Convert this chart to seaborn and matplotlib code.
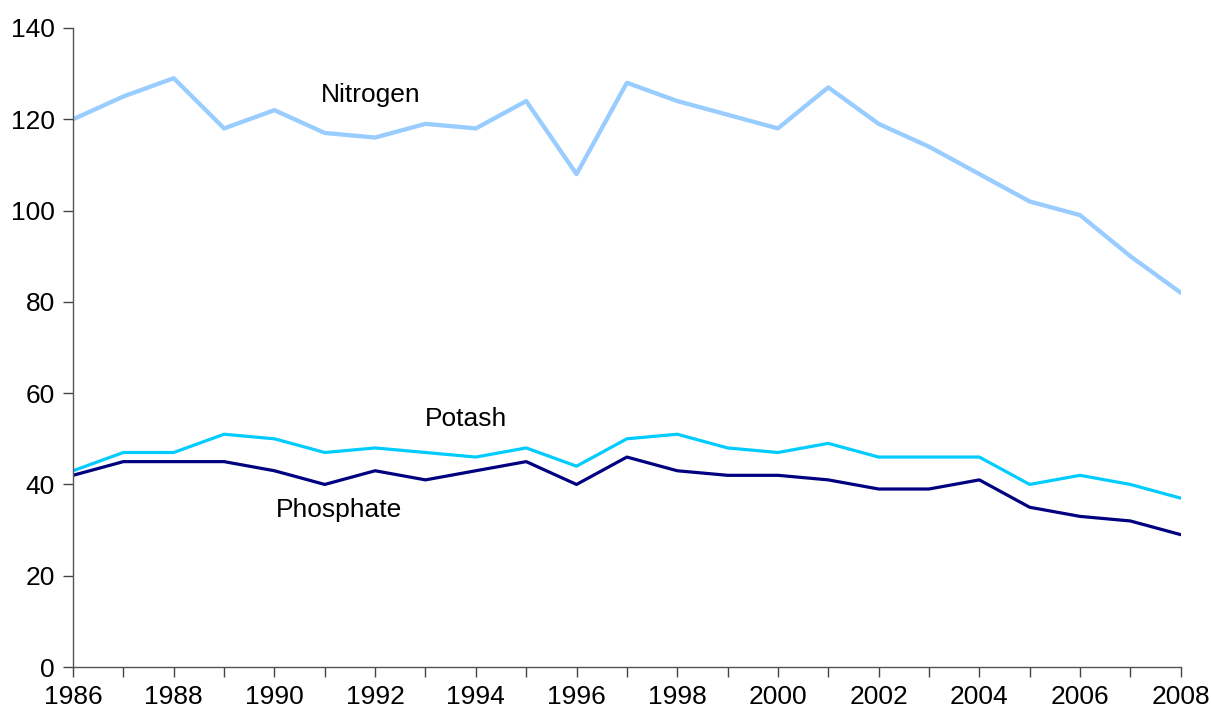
import matplotlib
matplotlib.use("Agg")
import matplotlib.pyplot as plt
import seaborn as sns
import pandas as pd

years = list(range(1986, 2009))
nitrogen = [120, 125, 129, 118, 122, 117, 116, 119, 118, 124, 108, 128, 124, 121, 118, 127, 119, 114, 108, 102, 99, 90, 82]
potash = [43, 47, 47, 51, 50, 47, 48, 47, 46, 48, 44, 50, 51, 48, 47, 49, 46, 46, 46, 40, 42, 40, 37]
phosphate = [42, 45, 45, 45, 43, 40, 43, 41, 43, 45, 40, 46, 43, 42, 42, 41, 39, 39, 41, 35, 33, 32, 29]
x_ticks = list(range(1986, 2009, 2))
y_ticks = [0, 20, 40, 60, 80, 100, 120, 140]

sns.set_theme(style="ticks")
plt.rcParams['font.family'] = ['Liberation Sans', 'DejaVu Sans']
plt.rcParams['text.color'] = 'black'
plt.rcParams['xtick.color'] = 'black'
plt.rcParams['ytick.color'] = 'black'

df = pd.DataFrame({"Year": years, "Nitrogen": nitrogen, "Potash": potash, "Phosphate": phosphate})

fig = plt.figure(figsize=(12.11, 7.16), dpi=100)
ax = fig.add_axes([0.0603, 0.0684, 0.9147, 0.8925])

sns.lineplot(data=df, x="Year", y="Nitrogen", ax=ax, color="#99CCFF", linewidth=3.1)
sns.lineplot(data=df, x="Year", y="Potash", ax=ax, color="#00CCFF", linewidth=2.3)
sns.lineplot(data=df, x="Year", y="Phosphate", ax=ax, color="#000080", linewidth=2.3)

ax.set_xlim(1986, 2008)
ax.set_ylim(0, 140)
ax.set_xticks(years)
ax.set_xticklabels([str(y) if y in x_ticks else "" for y in years])
ax.set_yticks(y_ticks)
ax.set_xlabel("")
ax.set_ylabel("")
ax.tick_params(axis="both", labelsize=19, direction="out", length=7, width=1, color="#444444", labelcolor="black", pad=6)
for s in ["top", "right"]:
    ax.spines[s].set_visible(False)
for s in ["left", "bottom"]:
    ax.spines[s].set_color("#555555")
    ax.spines[s].set_linewidth(1)

ax.text(1991.92, 125.3, "Nitrogen", ha="center", va="center", fontsize=19, color="black")
ax.text(1993.80, 54.3, "Potash", ha="center", va="center", fontsize=19, color="black")
ax.text(1991.28, 34.4, "Phosphate", ha="center", va="center", fontsize=19, color="black")

fig.savefig("out.png", dpi=100)
